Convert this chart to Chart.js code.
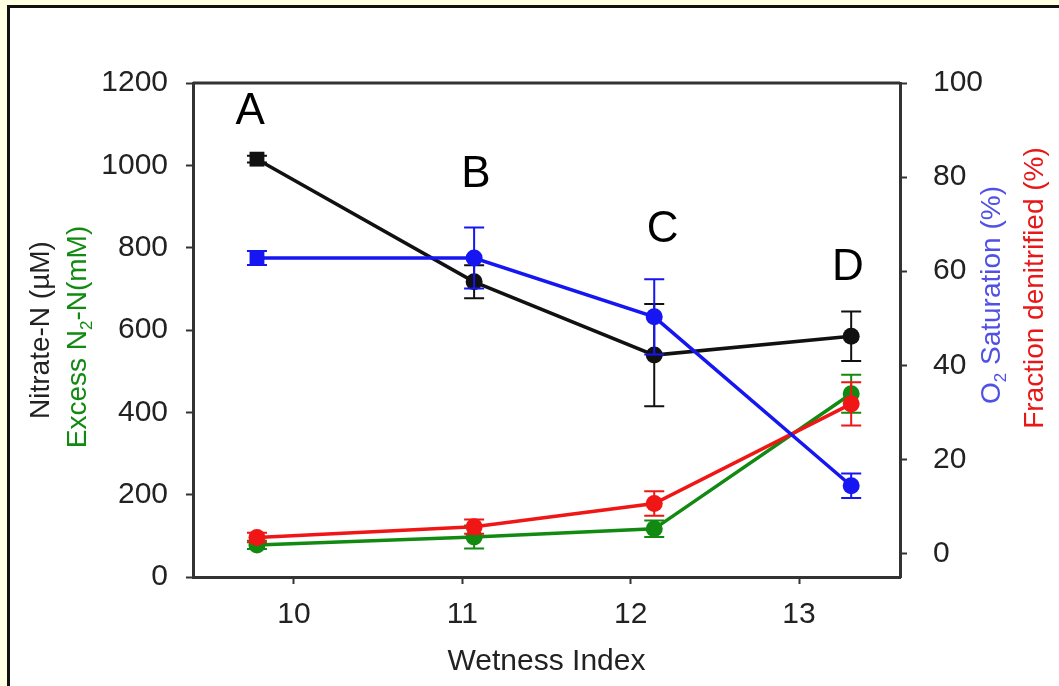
<!DOCTYPE html>
<html>
<head>
<meta charset="utf-8">
<script src="https://cdn.jsdelivr.net/npm/chart.js@4.4.1/dist/chart.umd.min.js"></script>
<style>
  html, body { margin: 0; padding: 0; overflow: hidden; background: #ffffe3; }
  #frame { position: absolute; left: 7px; top: 5px; width: 1200px; height: 900px; border: 3px solid #111; background: #fff; }
  #wrap { position: absolute; left: 0; top: 0; width: 1059px; height: 686px; }
</style>
</head>
<body>
<div id="frame"></div>
<div id="wrap"><canvas id="chart"></canvas></div>
<script>
// values
const wetness = [9.78, 11.07, 12.14, 13.31];
const sites = ["A", "B", "C", "D"];
const nitrate = [1015, 717, 539, 585];
const nitrateErr = [8, 40, 124, 60];
const excessN2 = [78, 97, 117, 445];
const excessN2Err = [10, 28, 20, 46];
const o2Sat = [62.8, 62.8, 50.3, 14.4];
const o2SatErr = [1.5, 6.5, 8, 2.6];
const fracDenit = [3.4, 5.7, 10.6, 31.8];
const fracDenitErr = [1, 1.5, 2.6, 4.6];
const siteLabelX = [9.74, 11.08, 12.19, 13.29];
const siteLabelY = [1129, 976, 843, 750];
const xTicks = [10, 11, 12, 13];
const leftTicks = [0, 200, 400, 600, 800, 1000, 1200];
const rightTicks = [0, 20, 40, 60, 80, 100];

const FONT = "'Liberation Sans', Arial, Helvetica, sans-serif";
const BLACK = "#111111";
const GREEN = "#128a12";
const RED = "#f01616";
const BLUE = "#1616f2";

function pts(ys) {
  return wetness.map((x, i) => ({ x: x, y: ys[i] }));
}

function series(label, ys, err, color, axis, styles, radii) {
  return {
    label: label,
    data: pts(ys),
    err: err,
    yAxisID: axis,
    borderColor: color,
    backgroundColor: color,
    borderWidth: 3.5,
    pointStyle: styles,
    pointRadius: radii,
    pointBorderWidth: 0,
    pointBackgroundColor: color,
  };
}

// error bars drawn under each dataset
const errorBars = {
  id: "errorBars",
  beforeDatasetDraw(chart, args) {
    const ds = chart.data.datasets[args.index];
    if (!ds.err) return;
    const ys = chart.scales[ds.yAxisID];
    const ctx = chart.ctx;
    ctx.save();
    ctx.strokeStyle = ds.borderColor;
    ctx.lineWidth = 2;
    args.meta.data.forEach((p, i) => {
      const v = ds.data[i].y;
      const top = ys.getPixelForValue(v + ds.err[i]);
      const bot = ys.getPixelForValue(v - ds.err[i]);
      ctx.beginPath();
      ctx.moveTo(p.x, top);
      ctx.lineTo(p.x, bot);
      ctx.moveTo(p.x - 10, top);
      ctx.lineTo(p.x + 10, top);
      ctx.moveTo(p.x - 10, bot);
      ctx.lineTo(p.x + 10, bot);
      ctx.stroke();
    });
    ctx.restore();
  },
};

function drawRotated(ctx, parts, cx, cy, size) {
  ctx.save();
  ctx.translate(cx, cy);
  ctx.rotate(-Math.PI / 2);
  ctx.textBaseline = "middle";
  ctx.textAlign = "left";
  let total = 0;
  parts.forEach((p) => {
    ctx.font = (p.sub ? Math.round(size * 0.62) : size) + "px " + FONT;
    p.w = ctx.measureText(p.t).width;
    total += p.w;
  });
  let x = -total / 2;
  parts.forEach((p) => {
    ctx.font = (p.sub ? Math.round(size * 0.62) : size) + "px " + FONT;
    ctx.fillStyle = p.c;
    ctx.fillText(p.t, x, p.sub ? size * 0.32 : 0);
    x += p.w;
  });
  ctx.restore();
}

const decorations = {
  id: "decorations",
  afterDraw(chart) {
    const ctx = chart.ctx;
    const a = chart.chartArea;
    const xs = chart.scales.x;
    const yl = chart.scales.y;
    ctx.save();
    // top frame line of the plot box
    ctx.strokeStyle = "#333";
    ctx.lineWidth = 3;
    ctx.beginPath();
    ctx.moveTo(a.left, a.top);
    ctx.lineTo(a.right, a.top);
    ctx.stroke();

    // site letters
    ctx.fillStyle = "#000";
    ctx.font = "44px " + FONT;
    ctx.textAlign = "center";
    ctx.textBaseline = "middle";
    sites.forEach((s, i) => {
      ctx.fillText(s, xs.getPixelForValue(siteLabelX[i]), yl.getPixelForValue(siteLabelY[i]));
    });

    // x title
    ctx.fillStyle = "#222";
    ctx.font = "30px " + FONT;
    ctx.fillText("Wetness Index", (a.left + a.right) / 2, a.bottom + 85);
    ctx.restore();

    drawRotated(ctx, [{ t: "Nitrate-N (\u00b5M)", c: "#222" }], 41, 330, 28);
    drawRotated(ctx, [
      { t: "Excess N", c: GREEN },
      { t: "2", c: GREEN, sub: true },
      { t: "-N(mM)", c: GREEN },
    ], 78, 337, 28);
    drawRotated(ctx, [
      { t: "O", c: "#5050e6" },
      { t: "2", c: "#5050e6", sub: true },
      { t: " Saturation (%)", c: "#5050e6" },
    ], 992, 295, 28);
    drawRotated(ctx, [{ t: "Fraction denitrified (%)", c: "#e81818" }], 1035, 288, 28);
  },
};

const tickFont = { family: FONT, size: 30 };
const plain = (v) => String(v);

new Chart(document.getElementById("chart"), {
  type: "line",
  data: {
    datasets: [
      series("O2 Saturation", o2Sat, o2SatErr, BLUE, "y2", ["rect", "circle", "circle", "circle"], [10.5, 8.5, 8.5, 8.5]),
      series("Fraction denitrified", fracDenit, fracDenitErr, RED, "y2", "circle", 8.5),
      series("Excess N2-N", excessN2, excessN2Err, GREEN, "y", "circle", 8.5),
      series("Nitrate-N", nitrate, nitrateErr, BLACK, "y", ["rect", "circle", "circle", "circle"], [10.5, 8.5, 8.5, 8.5]),
    ],
  },
  options: {
    responsive: true,
    maintainAspectRatio: false,
    animation: false,
    layout: { padding: { top: 83, left: 0, right: 0, bottom: 0 } },
    plugins: { legend: { display: false }, tooltip: { enabled: false } },
    scales: {
      x: {
        type: "linear",
        position: "bottom",
        min: 9.4,
        max: 13.6,
        afterBuildTicks: (s) => { s.ticks = xTicks.map((v) => ({ value: v })); },
        afterFit: (s) => { s.height = 109; },
        grid: { drawOnChartArea: false, tickLength: 7, tickWidth: 2, color: "#333" },
        border: { color: "#333", width: 3 },
        ticks: { font: tickFont, color: "#222", padding: 13, maxRotation: 0, callback: plain },
      },
      y: {
        position: "left",
        min: 0,
        max: 1200,
        afterBuildTicks: (s) => { s.ticks = leftTicks.map((v) => ({ value: v })); },
        afterFit: (s) => { s.width = 193; },
        grid: { drawOnChartArea: false, tickLength: 7, tickWidth: 2, color: "#333" },
        border: { color: "#333", width: 3 },
        ticks: { font: tickFont, color: "#222", padding: 18, callback: plain },
      },
      y2: {
        position: "right",
        min: -5,
        max: 100,
        afterBuildTicks: (s) => { s.ticks = rightTicks.map((v) => ({ value: v })); },
        afterFit: (s) => { s.width = 159; },
        grid: { drawOnChartArea: false, tickLength: 7, tickWidth: 2, color: "#333" },
        border: { color: "#333", width: 3 },
        ticks: { font: tickFont, color: "#222", padding: 26, callback: plain },
      },
    },
  },
  plugins: [errorBars, decorations],
});
</script>
</body>
</html>
